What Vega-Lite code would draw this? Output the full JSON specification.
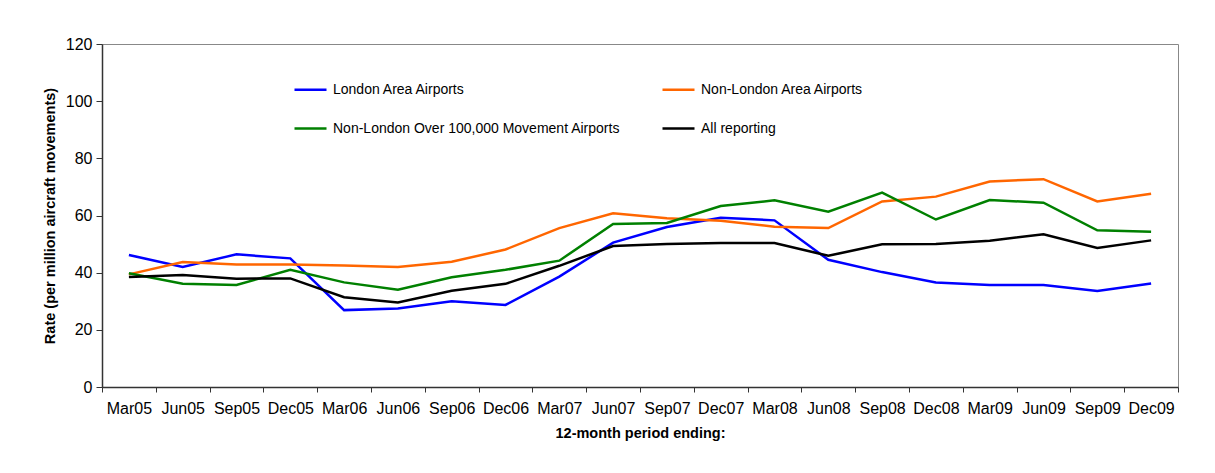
{
  "$schema": "https://vega.github.io/schema/vega-lite/v6.json",
  "width": 1076,
  "height": 343,
  "autosize": {"type": "none"},
  "padding": {"left": 102, "top": 44, "right": 37, "bottom": 86},
  "background": "white",
  "config": {
    "font": "Liberation Sans",
    "view": {"stroke": "#888888", "strokeWidth": 1},
    "axis": {"grid": false, "labelColor": "#000000", "titleColor": "#000000", "domainColor": "#333333", "tickColor": "#333333", "labelFont": "Liberation Sans", "titleFont": "Liberation Sans"}
  },
  "data": {"values": [
    {"period": "Mar05", "series": "London Area Airports", "rate": 46.2},
    {"period": "Jun05", "series": "London Area Airports", "rate": 42.0},
    {"period": "Sep05", "series": "London Area Airports", "rate": 46.4},
    {"period": "Dec05", "series": "London Area Airports", "rate": 45.0},
    {"period": "Mar06", "series": "London Area Airports", "rate": 26.9},
    {"period": "Jun06", "series": "London Area Airports", "rate": 27.5},
    {"period": "Sep06", "series": "London Area Airports", "rate": 30.0},
    {"period": "Dec06", "series": "London Area Airports", "rate": 28.7},
    {"period": "Mar07", "series": "London Area Airports", "rate": 38.6},
    {"period": "Jun07", "series": "London Area Airports", "rate": 50.5},
    {"period": "Sep07", "series": "London Area Airports", "rate": 56.0},
    {"period": "Dec07", "series": "London Area Airports", "rate": 59.2},
    {"period": "Mar08", "series": "London Area Airports", "rate": 58.3},
    {"period": "Jun08", "series": "London Area Airports", "rate": 44.5},
    {"period": "Sep08", "series": "London Area Airports", "rate": 40.2},
    {"period": "Dec08", "series": "London Area Airports", "rate": 36.6},
    {"period": "Mar09", "series": "London Area Airports", "rate": 35.7},
    {"period": "Jun09", "series": "London Area Airports", "rate": 35.7},
    {"period": "Sep09", "series": "London Area Airports", "rate": 33.6},
    {"period": "Dec09", "series": "London Area Airports", "rate": 36.2},
    {"period": "Mar05", "series": "Non-London Area Airports", "rate": 39.4},
    {"period": "Jun05", "series": "Non-London Area Airports", "rate": 43.7},
    {"period": "Sep05", "series": "Non-London Area Airports", "rate": 42.9},
    {"period": "Dec05", "series": "Non-London Area Airports", "rate": 42.9},
    {"period": "Mar06", "series": "Non-London Area Airports", "rate": 42.5},
    {"period": "Jun06", "series": "Non-London Area Airports", "rate": 42.0},
    {"period": "Sep06", "series": "Non-London Area Airports", "rate": 43.8},
    {"period": "Dec06", "series": "Non-London Area Airports", "rate": 48.1},
    {"period": "Mar07", "series": "Non-London Area Airports", "rate": 55.6},
    {"period": "Jun07", "series": "Non-London Area Airports", "rate": 60.8},
    {"period": "Sep07", "series": "Non-London Area Airports", "rate": 59.0},
    {"period": "Dec07", "series": "Non-London Area Airports", "rate": 58.2},
    {"period": "Mar08", "series": "Non-London Area Airports", "rate": 56.1},
    {"period": "Jun08", "series": "Non-London Area Airports", "rate": 55.6},
    {"period": "Sep08", "series": "Non-London Area Airports", "rate": 64.9},
    {"period": "Dec08", "series": "Non-London Area Airports", "rate": 66.6},
    {"period": "Mar09", "series": "Non-London Area Airports", "rate": 71.9},
    {"period": "Jun09", "series": "Non-London Area Airports", "rate": 72.7},
    {"period": "Sep09", "series": "Non-London Area Airports", "rate": 64.9},
    {"period": "Dec09", "series": "Non-London Area Airports", "rate": 67.6},
    {"period": "Mar05", "series": "Non-London Over 100,000 Movement Airports", "rate": 39.8},
    {"period": "Jun05", "series": "Non-London Over 100,000 Movement Airports", "rate": 36.1},
    {"period": "Sep05", "series": "Non-London Over 100,000 Movement Airports", "rate": 35.7},
    {"period": "Dec05", "series": "Non-London Over 100,000 Movement Airports", "rate": 41.0},
    {"period": "Mar06", "series": "Non-London Over 100,000 Movement Airports", "rate": 36.6},
    {"period": "Jun06", "series": "Non-London Over 100,000 Movement Airports", "rate": 34.0},
    {"period": "Sep06", "series": "Non-London Over 100,000 Movement Airports", "rate": 38.4},
    {"period": "Dec06", "series": "Non-London Over 100,000 Movement Airports", "rate": 41.0},
    {"period": "Mar07", "series": "Non-London Over 100,000 Movement Airports", "rate": 44.2},
    {"period": "Jun07", "series": "Non-London Over 100,000 Movement Airports", "rate": 57.0},
    {"period": "Sep07", "series": "Non-London Over 100,000 Movement Airports", "rate": 57.4},
    {"period": "Dec07", "series": "Non-London Over 100,000 Movement Airports", "rate": 63.3},
    {"period": "Mar08", "series": "Non-London Over 100,000 Movement Airports", "rate": 65.3},
    {"period": "Jun08", "series": "Non-London Over 100,000 Movement Airports", "rate": 61.3},
    {"period": "Sep08", "series": "Non-London Over 100,000 Movement Airports", "rate": 68.0},
    {"period": "Dec08", "series": "Non-London Over 100,000 Movement Airports", "rate": 58.6},
    {"period": "Mar09", "series": "Non-London Over 100,000 Movement Airports", "rate": 65.4},
    {"period": "Jun09", "series": "Non-London Over 100,000 Movement Airports", "rate": 64.5},
    {"period": "Sep09", "series": "Non-London Over 100,000 Movement Airports", "rate": 54.8},
    {"period": "Dec09", "series": "Non-London Over 100,000 Movement Airports", "rate": 54.3},
    {"period": "Mar05", "series": "All reporting", "rate": 38.5},
    {"period": "Jun05", "series": "All reporting", "rate": 39.2},
    {"period": "Sep05", "series": "All reporting", "rate": 37.9},
    {"period": "Dec05", "series": "All reporting", "rate": 38.0},
    {"period": "Mar06", "series": "All reporting", "rate": 31.4},
    {"period": "Jun06", "series": "All reporting", "rate": 29.6},
    {"period": "Sep06", "series": "All reporting", "rate": 33.7},
    {"period": "Dec06", "series": "All reporting", "rate": 36.1},
    {"period": "Mar07", "series": "All reporting", "rate": 42.4},
    {"period": "Jun07", "series": "All reporting", "rate": 49.3},
    {"period": "Sep07", "series": "All reporting", "rate": 50.0},
    {"period": "Dec07", "series": "All reporting", "rate": 50.4},
    {"period": "Mar08", "series": "All reporting", "rate": 50.4},
    {"period": "Jun08", "series": "All reporting", "rate": 45.9},
    {"period": "Sep08", "series": "All reporting", "rate": 49.9},
    {"period": "Dec08", "series": "All reporting", "rate": 50.0},
    {"period": "Mar09", "series": "All reporting", "rate": 51.2},
    {"period": "Jun09", "series": "All reporting", "rate": 53.4},
    {"period": "Sep09", "series": "All reporting", "rate": 48.6},
    {"period": "Dec09", "series": "All reporting", "rate": 51.3}
  ]},
  "mark": {"type": "line", "strokeWidth": 2.5},
  "encoding": {
    "x": {
      "field": "period",
      "type": "nominal",
      "sort": null,
      "scale": {"type": "band", "paddingInner": 0, "paddingOuter": 0},
      "axis": {
        "title": "12-month period ending:",
        "titleFontSize": 14.5,
        "titleFontWeight": "bold",
        "titlePadding": 10,
        "labelFontSize": 16,
        "labelAngle": 0,
        "labelPadding": 8,
        "tickBand": "extent",
        "tickSize": 5,
        "domainWidth": 1.5
      }
    },
    "y": {
      "field": "rate",
      "type": "quantitative",
      "scale": {"domain": [0, 120], "nice": false},
      "axis": {
        "title": "Rate (per million aircraft movements)",
        "titleFontSize": 14.5,
        "titleFontWeight": "bold",
        "titlePadding": 8,
        "labelFontSize": 16,
        "labelPadding": 4,
        "values": [0, 20, 40, 60, 80, 100, 120],
        "tickSize": 6,
        "domainWidth": 1.5
      }
    },
    "color": {
      "field": "series",
      "type": "nominal",
      "sort": null,
      "scale": {
        "domain": ["London Area Airports", "Non-London Area Airports", "Non-London Over 100,000 Movement Airports", "All reporting"],
        "range": ["#0000FF", "#FF6600", "#008000", "#000000"]
      },
      "legend": {
        "title": null,
        "orient": "none",
        "legendX": 191,
        "legendY": 28,
        "direction": "horizontal",
        "columns": 2,
        "columnPadding": 36,
        "rowPadding": 14,
        "padding": 0,
        "symbolType": "stroke",
        "symbolSize": 1024,
        "symbolStrokeWidth": 2.5,
        "labelFontSize": 14,
        "labelFont": "Liberation Sans",
        "labelColor": "#000000",
        "labelOffset": 5,
        "labelLimit": 400
      }
    }
  }
}
